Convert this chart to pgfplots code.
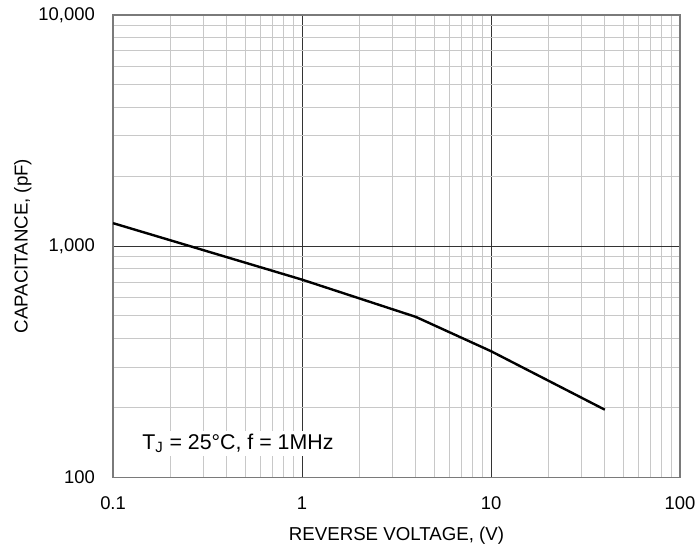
\documentclass[border=0pt]{standalone}
\usepackage{pgfplots}
\pgfplotsset{compat=1.18}
\usepackage{fontspec}
\setmainfont{Liberation Sans}

\definecolor{minorgrid}{HTML}{C8C8C8}
\definecolor{framegray}{HTML}{7A7A7A}

\begin{document}
\fontsize{13.5}{16}\selectfont
\begin{tikzpicture}

\begin{axis}[
  name=ax,
  scale only axis,
  width=425pt, height=346.5pt,
  xmode=log, ymode=log,
  xmin=0.1, xmax=100,
  ymin=100, ymax=10000,
  xtick={0.1,1,10,100},
  xticklabels={0.1,1,10,100},
  ytick={100,1000,10000},
  yticklabels={100,{1,000},{10,000}},
  major tick length=0pt,
  minor tick length=0pt,
  xmajorgrids=true, ymajorgrids=true,
  xminorgrids=true, yminorgrids=true,
  major grid style={black!80, line width=0.5pt},
  minor grid style={minorgrid, line width=0.6pt},
  axis line style={framegray, line width=1pt},
  tick label style={font=\fontsize{13.8}{16}\selectfont},
  xticklabel style={yshift=-10pt},
  yticklabel style={xshift=-9pt},
  xlabel={REVERSE VOLTAGE, (V)},
  ylabel={CAPACITANCE, (pF)},
  label style={font=\fontsize{14}{16}\selectfont},
  xlabel style={yshift=-3.5pt},
  ylabel style={yshift=-4pt},
  clip=false,
]

% capacitance vs reverse voltage, Tj = 25 C
\addplot[black, line width=1.8pt, mark=none]
  coordinates {
    (0.1,1257) (1,716) (4,494) (10,351) (40,196)
  };

\node[anchor=west, fill=white, inner sep=2pt,
      font=\fontsize{16}{18}\selectfont]
  at (axis cs:0.138,140) {T\textsubscript{J} = 25°C, f = 1MHz};

\end{axis}

\pgfresetboundingbox
\path[use as bounding box]
  ([xshift=-84.75pt,yshift=-50.25pt]ax.south west)
  rectangle ([xshift=11.25pt,yshift=11.25pt]ax.north east);

\end{tikzpicture}
\end{document}
